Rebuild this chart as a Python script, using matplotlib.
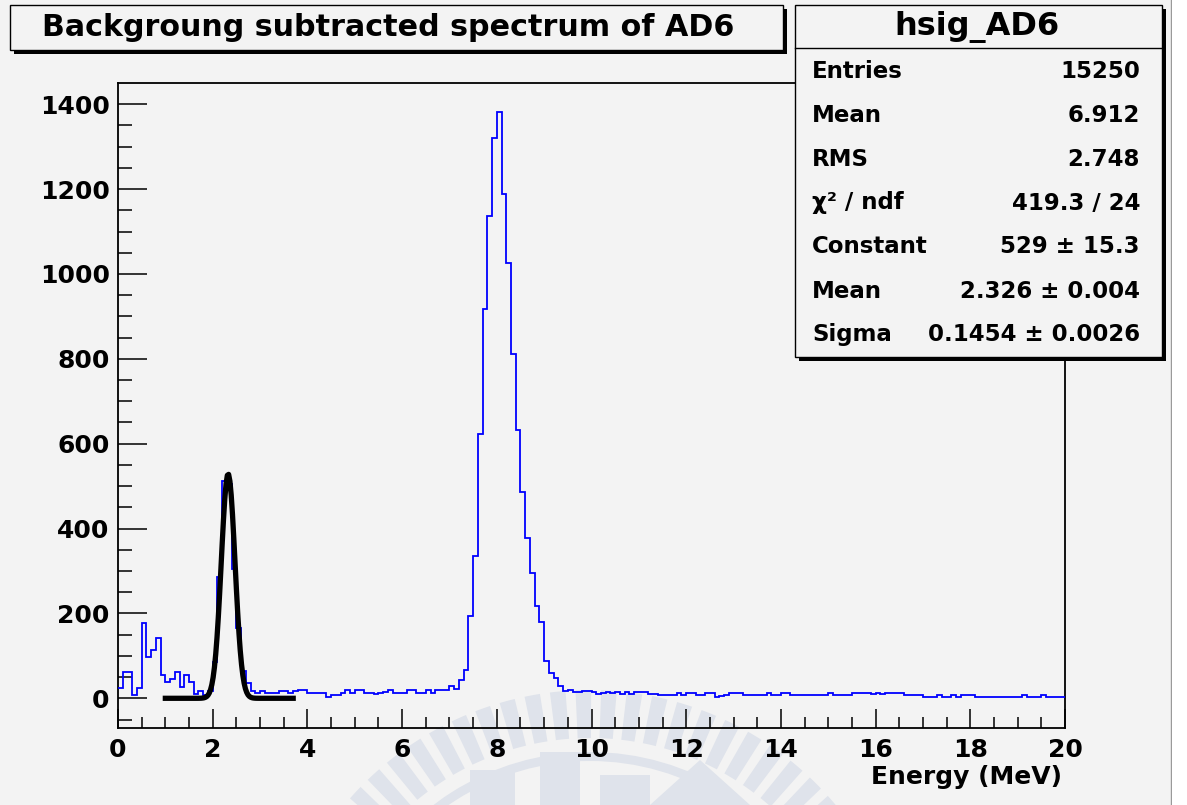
import numpy as np
import matplotlib
matplotlib.use("Agg")
import matplotlib.pyplot as plt
from matplotlib.patches import Rectangle, Wedge, Polygon

plt.rcParams["font.family"] = ["DejaVu Sans"]
plt.rcParams["font.weight"] = "bold"

W, H = 1187, 805

# background subtracted spectrum, 200 bins of 0.1 MeV from 0 to 20 MeV
counts = [
    25, 62, 62, 8, 25, 177, 98, 113, 142, 54,
    38, 45, 62, 26, 54, 38, 9, 18, 7, 18,
    85, 285, 512, 505, 305, 165, 64, 37, 17, 13,
    17, 13, 13, 13, 17, 17, 13, 17, 19, 19,
    13, 13, 13, 13, 2, 8, 8, 13, 19, 13,
    19, 19, 13, 12, 11, 12, 16, 19, 13, 13,
    13, 19, 19, 13, 13, 19, 13, 19, 19, 19,
    30, 22, 42, 67, 195, 335, 623, 917, 1136, 1321,
    1381, 1189, 1025, 812, 633, 487, 377, 296, 217, 180,
    88, 59, 47, 29, 18, 20, 16, 16, 18, 18,
    14, 10, 12, 14, 12, 14, 11, 14, 11, 14,
    14, 15, 11, 9, 8, 8, 8, 8, 12, 8,
    12, 12, 8, 8, 12, 12, 2, 6, 8, 13,
    13, 13, 8, 8, 8, 8, 8, 12, 8, 8,
    13, 13, 8, 8, 8, 8, 8, 8, 8, 8,
    12, 8, 8, 8, 8, 13, 13, 13, 13, 10,
    13, 10, 13, 12, 13, 13, 8, 8, 8, 8,
    3, 3, 3, 8, 3, 3, 8, 3, 8, 8,
    8, 3, 3, 3, 3, 3, 3, 3, 3, 3,
    3, 8, 3, 3, 3, 8, 3, 3, 3, 3,
]
e_min, e_max, n_bins = 0.0, 20.0, 200

# gaussian fit parameters
fit_const, fit_mean, fit_sigma = 529.0, 2.326, 0.1454
fit_range = (1.0, 3.7)

stat_names = ["Entries", "Mean", "RMS", "\u03c7\u00b2 / ndf", "Constant", "Mean", "Sigma"]
stat_values = ["15250", "6.912", "2.748", "419.3 / 24", "529 \u00b1 15.3",
               "2.326 \u00b1 0.004", "0.1454 \u00b1 0.0026"]

title = "Backgroung subtracted spectrum of AD6"
hist_name = "hsig_AD6"

bg = "#f3f3f3"


def fx(px):
    return px / W


def fy(py):
    return 1 - py / H


def pave(x0, y0, x1, y1):
    # ROOT-like pave with drop shadow, pixel coords from top-left
    sh = Rectangle((fx(x0 + 4), fy(y1 + 4)), fx(x1 - x0), (y1 - y0) / H,
                   transform=fig.transFigure, facecolor="black", edgecolor="none", zorder=2)
    box = Rectangle((fx(x0), fy(y1)), fx(x1 - x0), (y1 - y0) / H,
                    transform=fig.transFigure, facecolor=bg, edgecolor="black",
                    lw=1.0, zorder=3)
    fig.patches.extend([sh, box])


fig = plt.figure(figsize=(W / 100, H / 100), dpi=100, facecolor=bg)

# faint seal watermark behind the plot (display pixels, origin bottom-left)
cx, cy = 590, H - 1010
wm = "#dfe3eb"
for ang in np.arange(30, 150, 4.6):
    fig.patches.append(Wedge((cx, cy), 320, ang, ang + 2.8, width=48, facecolor=wm,
                             edgecolor="none", transform=None, zorder=-5))
fig.patches.append(Wedge((cx, cy), 258, 25, 155, width=9, facecolor=wm,
                         edgecolor="none", transform=None, zorder=-5))
for (x0, y0, x1, y1) in [(470, 770, 515, 805), (540, 752, 580, 805), (600, 775, 650, 805)]:
    fig.patches.append(Rectangle((x0, H - y1), x1 - x0, y1 - y0, facecolor=wm,
                                 edgecolor="none", transform=None, zorder=-5))
fig.patches.append(Polygon([(650, H - 805), (700, H - 760), (750, H - 805)], closed=True,
                           facecolor=wm, edgecolor="none", transform=None, zorder=-5))

ax = fig.add_axes([fx(118), fy(728), fx(1065 - 118), (728 - 83) / H])
ax.set_facecolor("none")

edges = np.linspace(e_min, e_max, n_bins + 1)
ax.stairs(counts, edges, baseline=None, color="#0000ff", lw=1.3, zorder=3)

xf = np.linspace(fit_range[0], fit_range[1], 100)
yf = fit_const * np.exp(-0.5 * ((xf - fit_mean) / fit_sigma) ** 2)
ax.plot(xf, yf, color="black", lw=3.8, zorder=4)

ax.set_xlim(e_min, e_max)
ax.set_ylim(-70, 1450)
ax.set_xticks(np.arange(0, 21, 2))
ax.set_xticks(np.arange(0, 20.01, 0.5), minor=True)
ax.set_yticks(np.arange(0, 1401, 200))
ax.set_yticks(np.arange(-50, 1450, 50), minor=True)
ax.tick_params(axis="x", which="major", direction="in", length=14, width=1.1, pad=7,
               labelsize=18)
ax.tick_params(axis="x", which="minor", direction="in", length=8, width=1.1)
ax.tick_params(axis="y", which="major", direction="in", length=21, width=1.1, pad=6,
               labelsize=18)
ax.tick_params(axis="y", which="minor", direction="in", length=10, width=1.1)
for lab in ax.get_xticklabels() + ax.get_yticklabels():
    lab.set_fontweight("bold")
for sp in ax.spines.values():
    sp.set_linewidth(1.3)

fig.text(fx(1062), fy(777), "Energy (MeV)", ha="right", va="center", fontsize=18,
         fontweight="bold")

# title pave
pave(10, 5, 783, 50)
fig.text(fx(388), fy(27), title, ha="center", va="center", fontsize=21.7,
         fontweight="bold", zorder=5)

# statistics pave
pave(795, 5, 1162, 357)
fig.lines.append(plt.Line2D([fx(795), fx(1162)], [fy(48), fy(48)],
                            transform=fig.transFigure, color="black", lw=1.0, zorder=4))
fig.text(fx(977), fy(27), hist_name, ha="center", va="center", fontsize=23,
         fontweight="bold", zorder=5)
row_y = [72, 116, 159, 203, 246, 291, 334]
for name, val, ry in zip(stat_names, stat_values, row_y):
    fig.text(fx(812), fy(ry), name, ha="left", va="center", fontsize=16.5,
             fontweight="bold", zorder=5)
    fig.text(fx(1140), fy(ry), val, ha="right", va="center", fontsize=16.5,
             fontweight="bold", zorder=5)

# page edge on the right
fig.patches.append(Rectangle((fx(1172), 0), fx(W - 1172), 1, transform=fig.transFigure,
                             facecolor="white", edgecolor="none", zorder=1))
fig.lines.append(plt.Line2D([fx(1171), fx(1171)], [0, 1], transform=fig.transFigure,
                            color="#9a9a9a", lw=1.0, zorder=1))

fig.savefig("out.png", dpi=100, facecolor=bg)
